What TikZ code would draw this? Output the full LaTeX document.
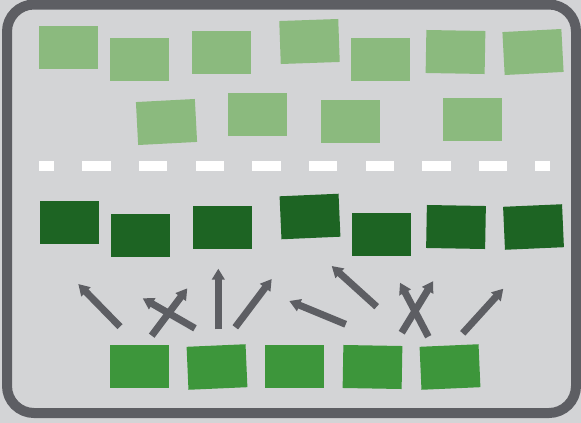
\documentclass[tikz,border=0pt]{standalone}
\usetikzlibrary{arrows.meta}
\definecolor{bgc}{HTML}{D3D4D6}
\definecolor{framec}{HTML}{5D5E63}
\definecolor{lgreen}{HTML}{8BBA7E}
\definecolor{dgreen}{HTML}{1D6423}
\definecolor{mgreen}{HTML}{3D963B}
\tikzset{
  box/.style={minimum width=59pt, minimum height=43pt, inner sep=0pt, draw=none},
  lbox/.style={box, fill=lgreen},
  dbox/.style={box, fill=dgreen},
  mbox/.style={box, fill=mgreen},
  arr/.style={draw=framec, line width=7pt, -{Triangle[width=12.5pt,length=11pt]}},
  dashbox/.style={fill=white}
}
\begin{document}
\begin{tikzpicture}[x=1pt,y=-1pt]
\useasboundingbox (0,0) rectangle (581,423);
\fill[bgc] (0,0) rectangle (581,423);
\draw[framec, line width=10pt, rounded corners=27pt] (7,4.5) rectangle (576,413);
% light green top rows
\node[lbox] (l1) at (68.5,47.5) {};
\node[lbox] (l2) at (139.5,59.5) {};
\node[lbox] (l3) at (221.5,52.5) {};
\node[lbox, rotate=2] (l4) at (309.5,41.5) {};
\node[lbox] (l5) at (380.5,59.5) {};
\node[lbox, rotate=-1] (l6) at (455.5,52) {};
\node[lbox, rotate=3] (l7) at (533,52) {};
\node[lbox, rotate=3] (l8) at (166.5,122) {};
\node[lbox] (l9) at (257.5,114.5) {};
\node[lbox] (l10) at (350.5,121.3) {};
\node[lbox] (l11) at (472.5,119.3) {};
% dashes
\foreach \a/\b in {39/54, 82/110.5, 139/167, 195.5/224, 252/280.5, 309/337, 365.5/394, 422/450.5, 479/507, 535/550}
  \fill[dashbox] (\a,161) rectangle (\b,171);
% dark green row
\node[dbox] (d1) at (69.5,222.3) {};
\node[dbox] (d2) at (140.5,235.3) {};
\node[dbox] (d3) at (222.5,227.3) {};
\node[dbox, rotate=2.5] (d4) at (310,216.5) {};
\node[dbox] (d5) at (381.5,234.3) {};
\node[dbox, rotate=-1] (d6) at (456,227) {};
\node[dbox, rotate=2.5] (d7) at (533.5,227) {};
% medium green row
\node[mbox] (m1) at (139.5,366.3) {};
\node[mbox, rotate=2.5] (m2) at (217,367) {};
\node[mbox] (m3) at (294.5,366.5) {};
\node[mbox, rotate=-1] (m4) at (372.5,367) {};
\node[mbox, rotate=2.5] (m5) at (450,367) {};
% arrows
\coordinate (a1s) at (120,326.7); \coordinate (a1e) at (78.3,284);
\coordinate (a2s) at (151.7,335.7); \coordinate (a2e) at (187.3,288.3);
\coordinate (a3s) at (195,328.3); \coordinate (a3e) at (142.7,298.3);
\coordinate (a4s) at (218.3,329.3); \coordinate (a4e) at (218.3,268.7);
\coordinate (a5s) at (235.3,327.3); \coordinate (a5e) at (271.7,279);
\coordinate (a6s) at (345.7,324.3); \coordinate (a6e) at (289.3,301);
\coordinate (a7s) at (376.7,306.7); \coordinate (a7e) at (331.7,266);
\coordinate (a8s) at (401.7,332.7); \coordinate (a8e) at (433.3,281);
\coordinate (a9s) at (428.3,336.7); \coordinate (a9e) at (400,282.7);
\coordinate (a10s) at (462.7,333.3); \coordinate (a10e) at (503.3,288.7);
\foreach \i in {1,...,10}
  \draw[arr] (a\i s) -- (a\i e);
\end{tikzpicture}
\end{document}
